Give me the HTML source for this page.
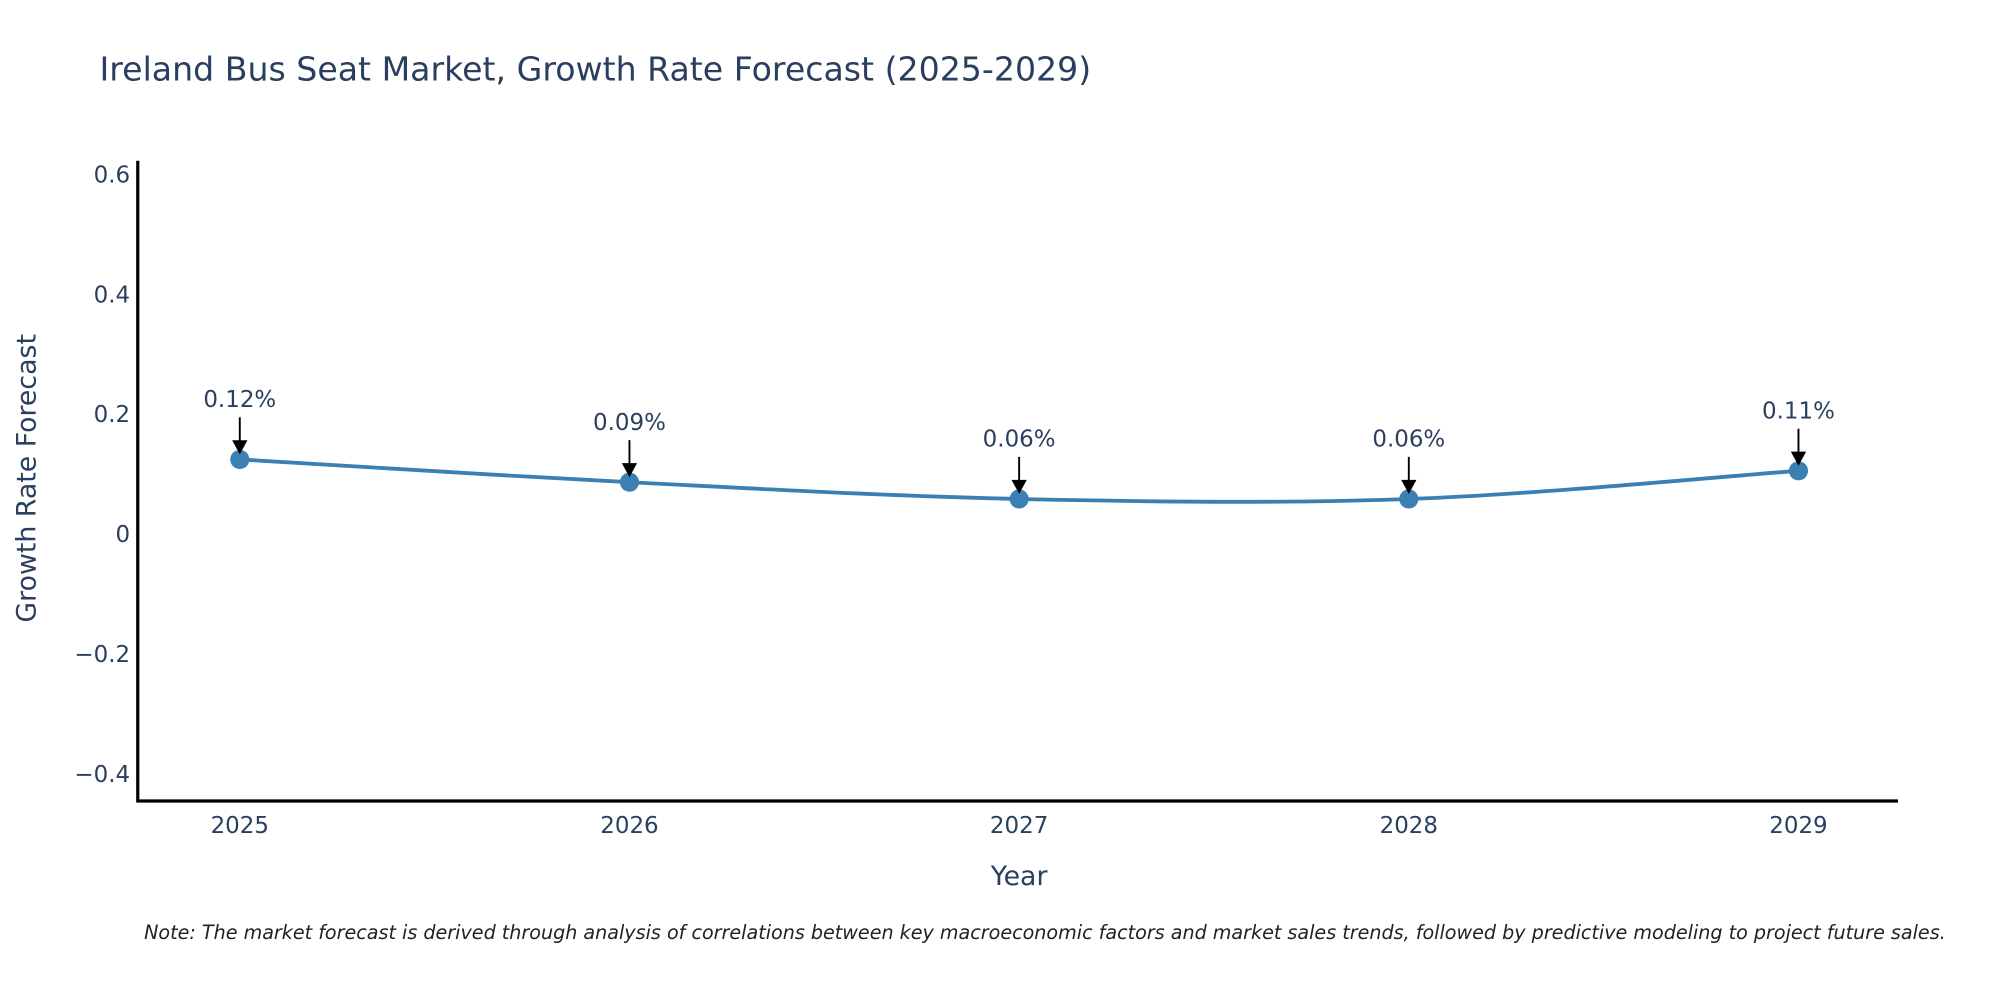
<!DOCTYPE html>
<html><head><meta charset="utf-8"><style>
html,body{margin:0;padding:0;background:#fff;overflow:hidden;}
svg{display:block;font-family:"DejaVu Sans","Liberation Sans",sans-serif;}
</style></head><body>
<svg id="chart" width="2000" height="1000" viewBox="0 0 1568 784" xmlns="http://www.w3.org/2000/svg">
<rect width="1568" height="784" fill="#fff"/>
<text x="78" y="63" font-size="26" fill="#2a3f5f">Ireland Bus Seat Market, Growth Rate Forecast (2025-2029)</text>
<g id="yticks"></g><g id="xticks"></g>
<line x1="108" y1="126" x2="108" y2="629" stroke="#000" stroke-width="2.5"/>
<line x1="107" y1="628" x2="1488" y2="628" stroke="#000" stroke-width="2.5"/>
<g id="series"></g>
<text x="799" y="694" font-size="21" fill="#2a3f5f" text-anchor="middle">Year</text>
<text transform="translate(28,375) rotate(-90)" font-size="21" fill="#2a3f5f" text-anchor="middle">Growth Rate Forecast</text>
<text x="113" y="736" font-size="15" font-style="italic" fill="#222">Note: The market forecast is derived through analysis of correlations between key macroeconomic factors and market sales trends, followed by predictive modeling to project future sales.</text>
</svg>
<script>
const years = [2025, 2026, 2027, 2028, 2029];
const values = [0.123, 0.085, 0.057, 0.057, 0.104];
const labels = ["0.12%", "0.09%", "0.06%", "0.06%", "0.11%"];
const yTicks = [0.6, 0.4, 0.2, 0, -0.2, -0.4];
const yTickLabels = ["0.6", "0.4", "0.2", "0", "\u22120.2", "\u22120.4"];

const NS = "http://www.w3.org/2000/svg";
function xs(v){ return 188 + (v - 2025) * 305.5; }
function ys(v){ return 418 - v * 470; }
function mk(tag, attrs, parent){ const e = document.createElementNS(NS, tag); for (const k in attrs) e.setAttribute(k, attrs[k]); parent.appendChild(e); return e; }

const yg = document.getElementById('yticks');
yTicks.forEach((t, i) => {
  const e = mk('text', {x: 102, y: ys(t) + 7, 'font-size': 18, fill: '#2a3f5f', 'text-anchor': 'end'}, yg);
  
  
  e.textContent = yTickLabels[i];
});
const xg = document.getElementById('xticks');
years.forEach(y => {
  const e = mk('text', {x: xs(y), y: 653, 'font-size': 18, fill: '#2a3f5f', 'text-anchor': 'middle'}, xg);
  
  
  e.textContent = String(y);
});

const sg = document.getElementById('series');
const pts = years.map((y, i) => [xs(y), ys(values[i])]);
let d = `M${pts[0][0]},${pts[0][1]}`;
for (let i = 0; i < pts.length - 1; i++) {
  const p0 = pts[i - 1] || pts[i], p1 = pts[i], p2 = pts[i + 1], p3 = pts[i + 2] || p2;
  const t = 1 / 6;
  d += ` C${p1[0] + (p2[0] - p0[0]) * t},${p1[1] + (p2[1] - p0[1]) * t} ${p2[0] - (p3[0] - p1[0]) * t},${p2[1] - (p3[1] - p1[1]) * t} ${p2[0]},${p2[1]}`;
}
const line = mk('path', {d: d, fill: 'none', stroke: '#3b7fb3', 'stroke-width': 3}, sg);



pts.forEach((p, i) => {
  const c = mk('circle', {cx: p[0], cy: p[1], r: 7.5, fill: '#3b7fb3'}, sg);
  
  
  const a = mk('line', {x1: p[0], y1: p[1] - 33, x2: p[0], y2: p[1] - 12, stroke: '#000', 'stroke-width': 1.5}, sg);
  
  
  const h = mk('polygon', {points: `${p[0]-6},${p[1]-15} ${p[0]+6},${p[1]-15} ${p[0]},${p[1]-4}`, fill: '#000'}, sg);
  
  
  const tx = mk('text', {x: p[0], y: p[1] - 41, 'font-size': 18, fill: '#2a3f5f', 'text-anchor': 'middle'}, sg);
  
  
  tx.textContent = labels[i];
});
</script>
</body></html>
